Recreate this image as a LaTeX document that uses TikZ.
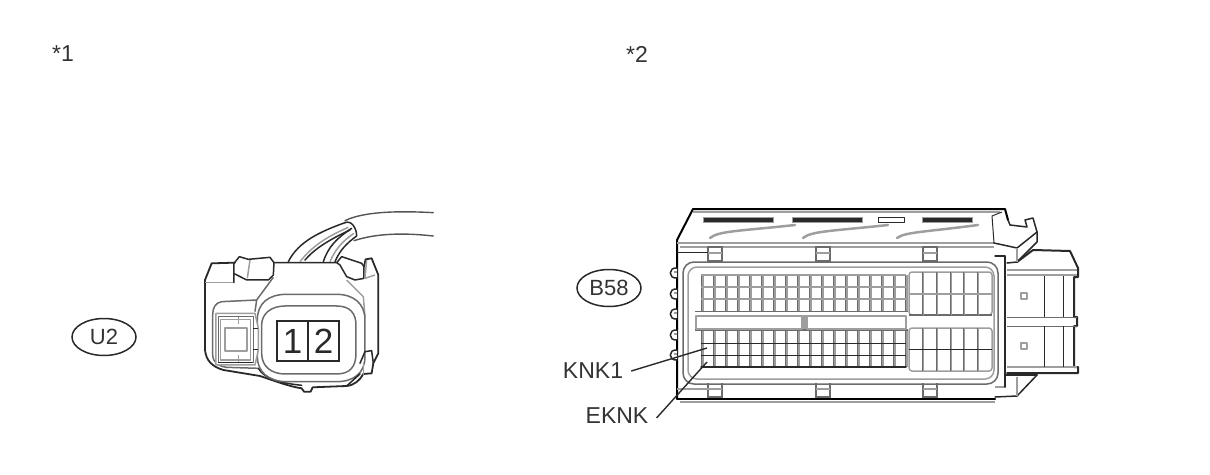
\documentclass[tikz,border=0pt]{standalone}
\usepackage{fontspec}
\setmainfont{Liberation Sans}
\definecolor{ink}{gray}{0.16}
\definecolor{mid}{gray}{0.62}
\definecolor{ring}{gray}{0.42}
\definecolor{txt}{gray}{0.2}
\tikzset{
 dk/.style={draw=ink,line width=1.5pt,line join=round,line cap=round},
 dkthin/.style={draw=ink,line width=1pt,line join=round},
 heavy/.style={draw=black,line width=2pt,line join=round,line cap=round},
 gr/.style={draw=mid,line width=1.5pt,line join=round},
 grthick/.style={draw=mid,line width=2.2pt,line join=round},
 ringline/.style={draw=ring,line width=1.5pt,line join=round},
 cell/.style={draw=ring,line width=.9pt},
 wire/.style={draw=ink!80!white,line width=1.4pt,line cap=round},
 lbl/.style={font=\fontsize{23pt}{23pt}\selectfont,text=txt,inner sep=0pt},
 bub/.style={ellipse,draw=ink,line width=1.5pt,minimum width=64pt,minimum height=37pt,inner sep=0pt,font=\fontsize{22pt}{22pt}\selectfont,text=txt},
 lead/.style={draw=ink,line width=1.4pt},
 pin/.style={font=\fontsize{35pt}{35pt}\selectfont,text=ink,inner sep=0pt},
 pinbox/.style={draw=ink,line width=1.8pt,minimum width=31pt,minimum height=40pt,inner sep=0pt},
}
\usetikzlibrary{shapes.geometric}
\begin{document}
\begin{tikzpicture}[x=1pt,y=-1pt]
\useasboundingbox (0,0) rectangle (1210,474);
\node[lbl] (n1) at (63,54) {*1};
\node[lbl] (n2) at (637,54) {*2};
\node[bub] (u2) at (104,337) {U2};
\node[bub] (b58) at (609,288) {B58};
% ---------- left connector
\begin{scope}[shift={(190,200)},x=0.3333pt,y=-0.3333pt]
 % wires
 \draw[wire] (465,62) .. controls (520,35) and (620,32) .. (730,38);
 \draw[wire] (492,122) .. controls (560,100) and (640,98) .. (730,108);
 \draw[dk] (295,185) .. controls (325,125) and (390,95) .. (465,68);
 \draw[gr] (330,185) .. controls (365,140) and (410,110) .. (475,82);
 \draw[dk] (345,180) .. controls (375,145) and (420,118) .. (480,90);
 \draw[dk] (400,185) .. controls (415,140) and (440,115) .. (485,85);
 \draw[gr] (420,185) .. controls (435,150) and (455,125) .. (492,100);
 \draw[dk] (435,185) .. controls (450,150) and (470,130) .. (500,108);
 \draw[dk] (465,68) .. controls (485,60) and (500,85) .. (500,108);
 % outer
 \draw[dk,line width=1.8pt] (135,188) -- (65,190) -- (45,240) -- (45,450)
   .. controls (48,480) and (65,500) .. (100,510) -- (210,528)
   .. controls (260,545) and (300,560) .. (335,565) -- (342,575) -- (362,575) -- (368,562)
   -- (470,558) .. controls (495,555) and (510,540) .. (520,522) -- (545,520) -- (550,490)
   -- (565,460) -- (565,225) -- (545,175) -- (527,178) -- (522,200);
 % top clips
 \draw[dk] (132,248) -- (132,190) -- (148,170) -- (175,178) -- (240,172) -- (252,188)
   -- (250,225) -- (235,240) -- (170,240) -- (135,222);
 \draw[gr] (180,180) -- (172,235);
 \draw[dk] (252,188) -- (440,188) -- (455,170) -- (515,190) -- (522,200) -- (522,235) -- (495,240) -- (470,230) -- (450,195) -- (440,188);
 \draw[gr] (530,180) -- (525,235) -- (555,225);
 \draw[gr] (45,248) -- (130,248);
 % shoulder
 \draw[ringline] (250,232) -- (200,300) -- (195,335);
 \draw[gr] (470,240) -- (520,290) -- (525,350);
 % body rounded outlines
 \draw[ringline] (200,300) -- (95,305) .. controls (75,308) and (68,325) .. (68,345) -- (68,465) .. controls (70,490) and (85,498) .. (110,502) -- (205,505);
 \draw[dk] (205,505) .. controls (225,540) and (280,550) .. (335,556);
 \draw[ringline] (290,283) -- (440,283) .. controls (490,283) and (525,310) .. (525,360) -- (525,470) .. controls (525,520) and (490,545) .. (440,545) -- (290,545) .. controls (235,545) and (202,515) .. (202,470) -- (202,360) .. controls (202,310) and (235,283) .. (290,283) -- cycle;
 \draw[ringline] (285,318) -- (440,318) .. controls (480,318) and (498,340) .. (498,375) -- (498,460) .. controls (498,500) and (480,522) .. (440,522) -- (285,522) .. controls (245,522) and (215,500) .. (215,460) -- (215,375) .. controls (215,340) and (245,318) .. (285,318) -- cycle;
 % latch on right
 \draw[dk] (510,490) -- (525,455) -- (545,452) -- (550,490);
 \draw[gr] (520,485) -- (520,525);
 \draw[dk] (470,558) -- (510,522);
 % small window left
 \draw[gr,fill=white] (78,340) -- (195,340) -- (205,385) -- (205,450) -- (195,495) -- (78,495) -- cycle;
 \draw[ringline] (85,350) rectangle (190,488);
 \draw[gr] (92,358) rectangle (182,480);
 \draw[grthick] (104,385) rectangle (172,452);
 \draw[gr] (145,352) -- (145,372) (145,465) -- (145,488);
 \draw[dkthin] (190,385) -- (205,385) (190,450) -- (205,450);
 \draw[dkthin] (85,488) -- (190,488);
 % pins
 \node[pinbox] (p1) at (308,423) {};
 \node[pinbox] (p2) at (401,423) {};
 \node[pin] (t1) at (p1) {1};
 \node[pin] (t2) at (p2) {2};
\end{scope}
% ---------- right connector
% plug on right
\fill[white] (1005,250) rectangle (1078,373);
\draw[dk,line width=2pt] (1017,262) -- (1033,250) -- (1070,251) -- (1078,268) -- (1078,277) -- (1074,277) -- (1074,317) -- (1077,317) -- (1077,326) -- (1074,326) -- (1074,367) -- (1078,367) -- (1078,373) -- (1007,373);
\draw[gr] (1007,270) -- (1077,270);
\draw[gr] (1007,275) -- (1077,275);
\draw[ringline,line width=1pt] (1007,317) -- (1077,317);
\draw[ringline,line width=1pt] (1007,326) -- (1077,326);
\draw[gr] (1007,367) -- (1077,367);
\foreach \x in {1044,1063}{\draw[dkthin] (\x,276) -- (\x,317) (\x,326) -- (\x,367);}
\draw[gr] (1021,293) rectangle (1027,299);
\draw[gr] (1021,343) rectangle (1027,349);
% lower tab
\draw[dk] (1037,375) -- (1017,396) -- (995,397);
\draw[gr] (1017,377) -- (1017,396);
\draw[dk] (1005,375) -- (1037,375);
% body
\draw[heavy] (677,399) -- (677,240) -- (693,209) -- (1005,209) -- (1008,220);
\draw[heavy] (677,399) -- (995,399);
\draw[gr] (693,212) -- (1000,212);
\draw[gr] (680,402) -- (995,402);
\draw[gr] (677,243) -- (994,243);
\draw[gr] (680,247) -- (994,247);
\draw[dkthin] (994,243) -- (992,216) -- (1002,212);
% top right ear
\draw[dk] (1008,220) -- (1010,225) -- (1027,227) -- (1025,220) -- (1033,218) -- (1037,232) -- (1037,242) -- (1017,262) -- (1007,263);
\draw[dk] (994,243) -- (1017,248) -- (1037,232);
\draw[gr] (1017,248) -- (1017,262);
% slots
\draw[mid,fill=ink,line width=1pt] (703,217) rectangle (773,222);
\draw[mid,fill=ink,line width=1pt] (792,217) rectangle (862,222);
\draw[dkthin] (878,217) rectangle (904,222);
\draw[mid,fill=ink,line width=1pt] (922,217) rectangle (972,222);
\draw[mid,line width=2.5pt,line cap=round] (710,238) .. controls (718,231) and (740,231) .. (795,225);
\draw[mid,line width=2.5pt,line cap=round] (803,238) .. controls (811,231) and (833,231) .. (888,225);
\draw[mid,line width=2.5pt,line cap=round] (897,238) .. controls (905,232) and (925,232) .. (978,225);
% side bumps
\foreach \y in {273,294,314,335,355}{
 \draw[dk,fill=white] (677,\y-5) .. controls (668,\y-6) and (668,\y+6) .. (677,\y+5);
 \draw[gr] (674,\y-1) -- (677,\y-1);
}
% tabs
\foreach \x in {708,816,923}{
 \draw[cell,line width=1.2pt] (\x,247) rectangle (\x+14,261);
 \draw[gr] (\x,253) -- (\x+14,253);
 \draw[cell,line width=1.2pt] (\x,383) -- (\x,397) -- (\x+14,397) -- (\x+14,383);
 \draw[gr] (\x,389) -- (\x+14,389);
}
\draw[dkthin] (677,252) -- (708,252);
\draw[gr] (677,389) -- (708,389);
% frame
\draw[ringline,rounded corners=11pt] (683,262) rectangle (998,384);
\draw[gr,rounded corners=9pt] (688,267) rectangle (994,379);
\draw[gr] (995,256) -- (1005,256) -- (1005,387) -- (995,387);
\draw[dk] (1005,256) -- (995,256) (1005,387) -- (1005,256);
% large grids
\foreach \k in {0,...,17}{
 \pgfmathsetmacro{\gx}{701+12*\k}
 \draw[grthick] (\gx+1.5,275) -- (\gx+1.5,311);
 \draw[cell] (\gx,275) -- (\gx,311);
 \draw[grthick] (\gx+1.5,331) -- (\gx+1.5,367);
 \draw[cell] (\gx,331) -- (\gx,367);
}
\draw[grthick] (701,287) -- (906,287);
\draw[grthick] (701,299) -- (906,299);
\draw[dkthin] (701,343) -- (906,343);
\draw[dkthin] (701,355) -- (906,355);
\draw[gr] (701,275) -- (906,275);
\draw[ringline] (695,311.5) -- (908,311.5);
\draw[ringline] (695,330) -- (908,330);
\draw[dk] (701,367) -- (906,367);
\draw[gr] (696,316) rectangle (802,329);
\draw[gr] (807,316) rectangle (906,329);
\fill[mid] (802,315) rectangle (807,329);
% right grids
\draw[gr,rounded corners=3pt] (909,272) rectangle (992,315);
\draw[gr,rounded corners=3pt] (909,328) rectangle (992,371);
\draw[ringline] (909,315) -- (992,315);
\foreach \gx in {922,936,950,963,977}{
 \draw[gr] (\gx+1.5,272) -- (\gx+1.5,315);
 \draw[cell] (\gx,272) -- (\gx,315);
 \draw[gr] (\gx+1.5,328) -- (\gx+1.5,371);
 \draw[cell] (\gx,328) -- (\gx,371);
}
\draw[grthick] (909,294) -- (992,294);
\draw[dkthin] (909,349) -- (992,349);
% labels
\node[lbl] (knk) at (593,371) {KNK1};
\node[lbl] (eknk) at (617,416) {EKNK};
\coordinate (knkend) at (707,348);
\coordinate (eknkend) at (707,362);
\draw[lead] ([xshift=8pt]knk.east) -- (knkend);
\draw[lead] ([xshift=8pt,yshift=-2pt]eknk.east) -- (eknkend);
\end{tikzpicture}
\end{document}
